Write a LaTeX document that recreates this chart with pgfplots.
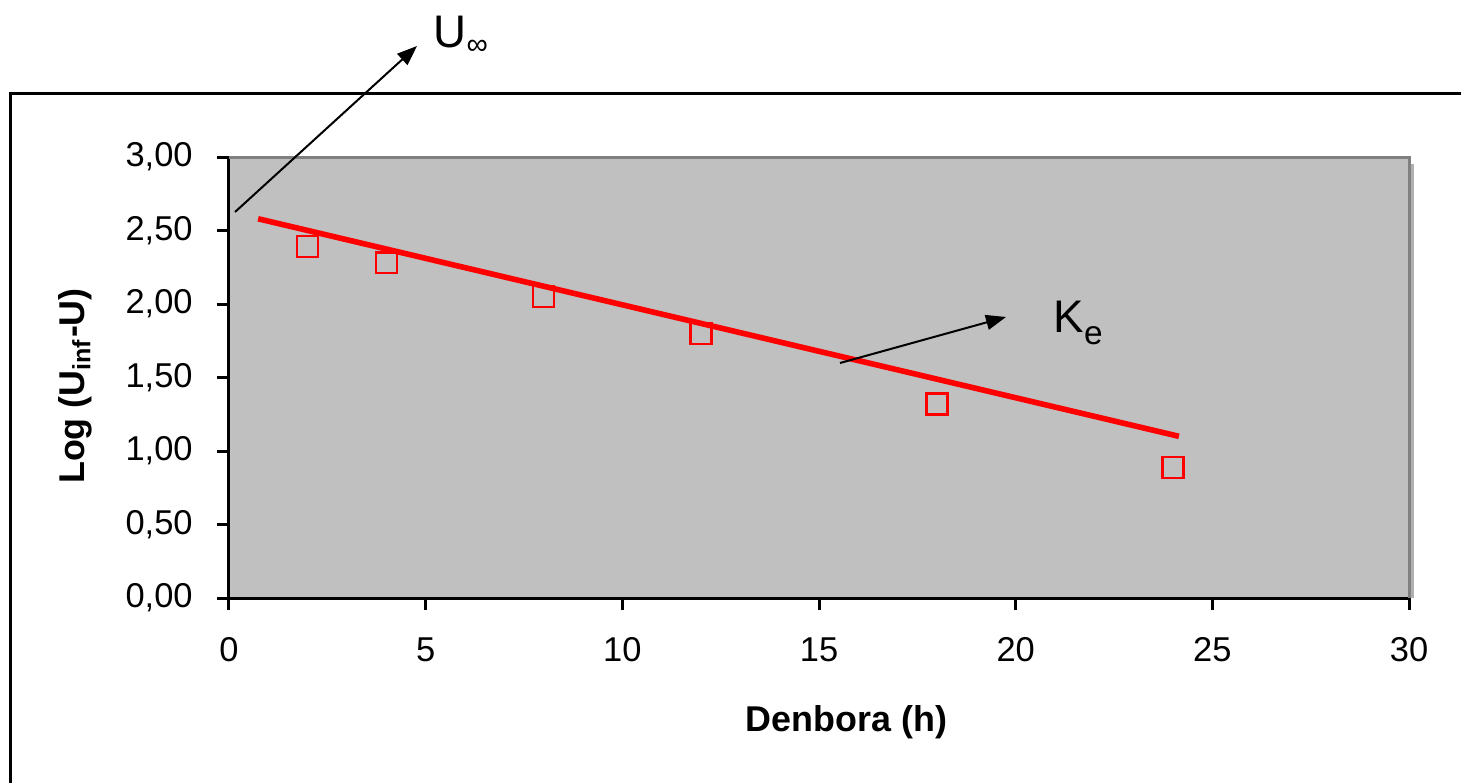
\documentclass[border=0pt]{standalone}
\usepackage{fontspec}
\setmainfont{Liberation Sans}
\usepackage{pgfplots}
\pgfplotsset{compat=1.18}
\usetikzlibrary{arrows.meta}
\definecolor{plotbg}{HTML}{C0C0C0}
\definecolor{edgegray}{HTML}{808080}
\definecolor{shadowgray}{HTML}{B0B0B0}

\begin{document}
\begin{tikzpicture}
% 1 px of the reference = 0.01cm
\useasboundingbox (0,0) rectangle (14.61,-7.82);
\begin{scope}
  \clip (0,0) rectangle (14.61,-7.82);
  \draw[line width=0.03cm] (0.105,-8.2) -- (0.105,-0.93) -- (15,-0.93);
\end{scope}

\begin{axis}[
    at={(2.29cm,-5.98cm)}, anchor=south west,
    scale only axis, width=11.80cm, height=4.41cm,
    xmin=0, xmax=30, ymin=0, ymax=3,
    xtick={0,5,10,15,20,25,30},
    ytick={0,0.5,1,1.5,2,2.5,3},
    axis lines=left,
    axis line style={-, line width=0.03cm, black},
    tick style={line width=0.03cm, black},
    major tick length=0.12cm, tick align=outside,
    axis background/.style={fill=plotbg},
    font=\fontsize{9.8}{11}\selectfont,
    /pgf/number format/assume math mode=true,
    yticklabel style={/pgf/number format/fixed,
        /pgf/number format/fixed zerofill,
        /pgf/number format/precision=2,
        /pgf/number format/use comma, xshift=-0.12cm},
    xticklabel style={yshift=-0.15cm},
    clip=false,
]
\draw[shadowgray, line width=0.03cm] ([xshift=0.03cm]rel axis cs:1,0.985) -- ([xshift=0.03cm]rel axis cs:1,0);
\draw[edgegray, line width=0.03cm] (rel axis cs:0,1) -- (rel axis cs:1,1) -- (rel axis cs:1,0);

\addplot[only marks, mark=square, mark size=0.105cm,
    mark options={draw=red, line width=0.65pt, fill=none}]
coordinates {
    (2, 2.39)
    (4, 2.28)
    (8, 2.05)
    (12, 1.80)
    (18, 1.32)
    (24, 0.89)
};
\addplot[red, line width=1.6pt] coordinates {
    (0.74, 2.58)
    (24.15, 1.10)
};
\end{axis}

% axis titles
\node[font=\fontsize{10.2}{12}\selectfont\bfseries] at (8.465,-7.22) {Denbora (h)};
\node[font=\fontsize{10.2}{12}\selectfont\bfseries, rotate=90] at (0.75,-3.86) {Log (U\textsubscript{inf}-U)};

% annotations
\draw[-{Triangle[length=0.2cm,width=0.15cm]}, line width=0.02cm] (2.35,-2.12) -- (4.17,-0.46);
\node[anchor=base west, inner sep=0pt, font=\fontsize{13}{15}\selectfont] at (4.33,-0.47) {U\raisebox{-0.3ex}{\fontsize{8.5}{10}\selectfont ∞}};
\draw[-{Triangle[length=0.2cm,width=0.15cm]}, line width=0.02cm] (8.40,-3.63) -- (10.06,-3.17);
\node[anchor=base west, inner sep=0pt, font=\fontsize{13}{15}\selectfont] at (10.53,-3.32) {K\raisebox{-0.5ex}{\fontsize{9.5}{11}\selectfont e}};
\end{tikzpicture}
\end{document}
